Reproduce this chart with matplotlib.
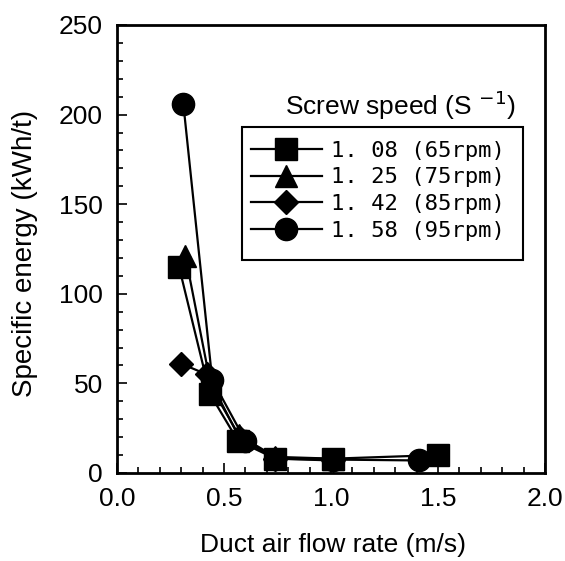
import matplotlib
matplotlib.use("Agg")
import matplotlib.pyplot as plt
from matplotlib.patches import Rectangle
from matplotlib.ticker import MultipleLocator

# data
sq_x = [0.29, 0.435, 0.565, 0.74, 1.01, 1.50]
sq_y = [115, 44, 18, 8, 8, 10]
tri_x = [0.32, 0.44, 0.57, 0.74, 1.01]
tri_y = [121, 48, 21, 9, 8]
dia_x = [0.30, 0.42, 0.57, 0.74, 1.01]
dia_y = [61, 55, 20, 8, 7]
cir_x = [0.31, 0.445, 0.60, 0.74, 1.01, 1.41]
cir_y = [206, 52, 18, 8, 7.5, 7]
labels = ["1. 08 (65rpm)", "1. 25 (75rpm)", "1. 42 (85rpm)", "1. 58 (95rpm)"]

plt.rcParams["font.family"] = ["Liberation Sans", "DejaVu Sans"]

fig = plt.figure(figsize=(5.65, 5.61), dpi=100)
ax = fig.add_axes([117 / 565, 1 - 473 / 561, 428 / 565, 448 / 561])


def px(x, y):
    # pixel position in the 565x561 picture -> axes fraction
    return (x - 117) / 428, (473 - y) / 448


kw = dict(color="black", lw=1.6, markerfacecolor="black", markeredgecolor="black")
h_tri, = ax.plot(tri_x, tri_y, marker="^", ms=16, label=labels[1], **kw)
h_dia, = ax.plot(dia_x, dia_y, marker="D", ms=12, label=labels[2], **kw)
h_cir, = ax.plot(cir_x, cir_y, marker="o", ms=16, label=labels[3], **kw)
h_sq, = ax.plot(sq_x, sq_y, marker="s", ms=16, label=labels[0], **kw)

ax.set_xlim(0, 2.0)
ax.set_ylim(0, 250)
ax.xaxis.set_major_locator(MultipleLocator(0.5))
ax.xaxis.set_minor_locator(MultipleLocator(0.1))
ax.yaxis.set_major_locator(MultipleLocator(50))
ax.yaxis.set_minor_locator(MultipleLocator(10))
ax.xaxis.set_major_formatter(plt.FormatStrFormatter("%.1f"))
ax.tick_params(which="both", direction="in", top=False, right=False,
               labelsize=19, pad=10, width=1.2)
ax.tick_params(which="major", length=7)
ax.tick_params(which="minor", length=4)
for s in ax.spines.values():
    s.set_linewidth(2)

ax.set_xlabel("Duct air flow rate (m/s)", fontsize=19)
ax.set_ylabel("Specific energy (kWh/t)", fontsize=20)
ax.xaxis.set_label_coords(0.505, -0.135)
ax.yaxis.set_label_coords(-0.185, 0.49)

leg = ax.legend([h_sq, h_tri, h_dia, h_cir], labels, loc="upper left",
                bbox_to_anchor=px(244, 134), frameon=False,
                borderaxespad=0, handlelength=3.2, handletextpad=0.4,
                labelspacing=0.3, borderpad=0.3,
                prop={"family": "DejaVu Sans Mono", "size": 16})

# legend box drawn separately so it can be wider than the text
x0, y0 = px(242, 260)
x1, y1 = px(523, 127)
ax.add_patch(Rectangle((x0, y0), x1 - x0, y1 - y0, transform=ax.transAxes,
                       fill=False, edgecolor="black", lw=1.5, zorder=5))

ax.text(*px(516, 105), r"Screw speed (S $^{-1}$)",
        transform=ax.transAxes, ha="right", va="center", fontsize=19)

fig.savefig("out.png", dpi=100)
